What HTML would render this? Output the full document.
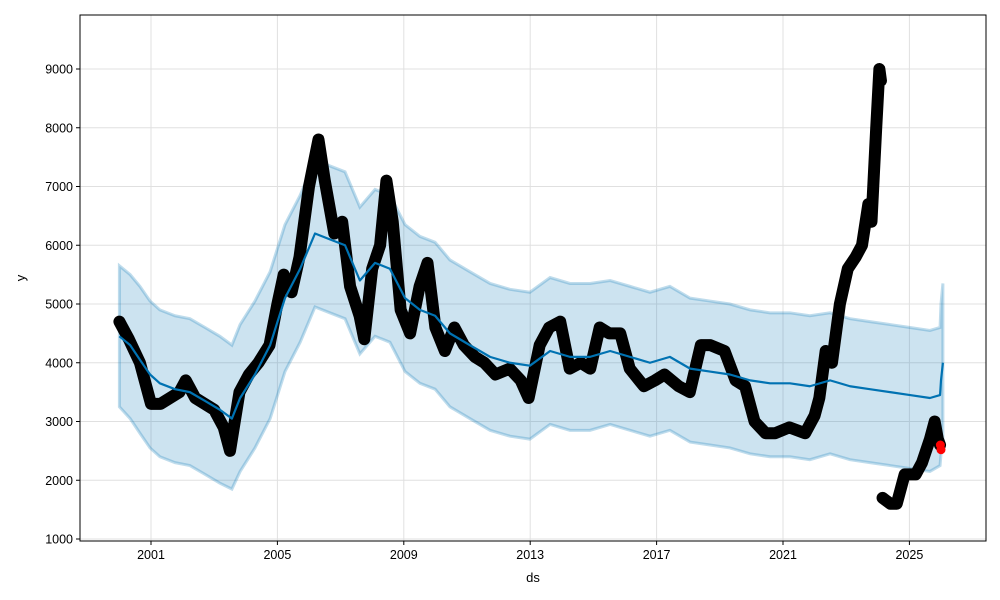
<!DOCTYPE html>
<html><head><meta charset="utf-8"><style>
html,body{margin:0;padding:0;background:#fff}
svg{display:block;font-family:"Liberation Sans","DejaVu Sans",sans-serif}
</style></head><body>
<svg id="chart" width="1000" height="600"></svg>
<script>
const trendYears=[2000.0,2000.34,2000.65,2000.97,2001.28,2001.76,2002.23,2002.71,2003.18,2003.56,2003.82,2004.29,2004.77,2005.24,2005.72,2006.19,2006.66,2007.14,2007.61,2008.09,2008.56,2009.04,2009.51,2009.99,2010.46,2011.09,2011.73,2012.36,2012.99,2013.63,2014.26,2014.89,2015.53,2016.16,2016.79,2017.42,2018.06,2018.69,2019.32,2019.96,2020.59,2021.22,2021.85,2022.49,2023.12,2023.75,2024.39,2025.02,2025.65,2025.97,2026.0,2026.06];
const trendValues=[4450,4300,4050,3800,3650,3550,3500,3350,3200,3050,3400,3800,4300,5100,5600,6200,6100,6000,5400,5700,5600,5100,4900,4800,4500,4300,4100,4000,3950,4200,4100,4100,4200,4100,4000,4100,3900,3850,3800,3700,3650,3650,3600,3700,3600,3550,3500,3450,3400,3450,3700,4000];
const upperValues=[5650,5500,5300,5050,4900,4800,4750,4600,4450,4300,4650,5050,5550,6350,6850,7450,7350,7250,6650,6950,6850,6350,6150,6050,5750,5550,5350,5250,5200,5450,5350,5350,5400,5300,5200,5300,5100,5050,5000,4900,4850,4850,4800,4850,4750,4700,4650,4600,4550,4600,5000,5350];
const lowerValues=[3250,3050,2800,2550,2400,2300,2250,2100,1950,1850,2150,2550,3050,3850,4350,4950,4850,4750,4150,4450,4350,3850,3650,3550,3250,3050,2850,2750,2700,2950,2850,2850,2950,2850,2750,2850,2650,2600,2550,2450,2400,2400,2350,2450,2350,2300,2250,2200,2150,2250,2450,2500];
const obsYears=[2000.0,2000.3,2000.65,2001.0,2001.3,2001.6,2001.9,2002.1,2002.4,2002.7,2003.0,2003.3,2003.5,2003.8,2004.1,2004.4,2004.75,2005.0,2005.2,2005.45,2005.7,2006.0,2006.3,2006.5,2006.8,2007.05,2007.3,2007.6,2007.75,2008.0,2008.25,2008.45,2008.65,2008.9,2009.2,2009.5,2009.75,2010.0,2010.3,2010.6,2010.9,2011.25,2011.55,2011.9,2012.35,2012.7,2012.95,2013.3,2013.6,2013.95,2014.25,2014.6,2014.9,2015.2,2015.5,2015.85,2016.15,2016.6,2016.95,2017.25,2017.7,2018.05,2018.4,2018.7,2019.15,2019.5,2019.8,2020.1,2020.45,2020.75,2021.2,2021.7,2022.0,2022.15,2022.35,2022.55,2022.8,2023.05,2023.3,2023.5,2023.7,2023.8,2023.95,2024.05,2024.1];
const obsValues=[4700,4400,4000,3300,3300,3400,3500,3700,3400,3300,3200,2900,2500,3500,3800,4000,4300,5000,5500,5200,5800,7000,7800,7100,6200,6400,5300,4800,4400,5600,6000,7100,6400,4900,4500,5300,5700,4600,4200,4600,4300,4100,4000,3800,3900,3700,3400,4300,4600,4700,3900,4000,3900,4600,4500,4500,3900,3600,3700,3800,3600,3500,4300,4300,4200,3700,3600,3000,2800,2800,2900,2800,3100,3400,4200,4000,5000,5600,5800,6000,6700,6400,8000,9000,8800];
const obs2Years=[2024.15,2024.4,2024.6,2024.85,2025.2,2025.4,2025.65,2025.8,2025.9,2025.97];
const obs2Values=[1700,1600,1600,2100,2100,2300,2700,3000,2700,2600];
const predYears=[2025.98,2026.0];
const predValues=[2600,2520];
const xTicks=[2001,2005,2009,2013,2017,2021,2025];
const yTicks=[1000,2000,3000,4000,5000,6000,7000,8000,9000];

const L=80,R=986,T=15,B=541;
const sx=y=>151+(y-2001)*31.6;
const sy=v=>539-(v-1000)*0.05875;
const svg=document.getElementById('chart');
const NS='http://www.w3.org/2000/svg';
function mk(tag,attrs){const e=document.createElementNS(NS,tag);for(const k in attrs)e.setAttribute(k,attrs[k]);svg.appendChild(e);return e;}
xTicks.forEach(t=>{const g=mk('line',{x1:sx(t),x2:sx(t),y1:T,y2:B,stroke:'#e0e0e0','stroke-width':1});

});
yTicks.forEach(t=>{const g=mk('line',{x1:L,x2:R,y1:sy(t),y2:sy(t),stroke:'#e0e0e0','stroke-width':1});

});
let d='M'+trendYears.map((y,i)=>sx(y)+','+sy(upperValues[i])).join('L');
for(let i=trendYears.length-1;i>=0;i--)d+='L'+sx(trendYears[i])+','+sy(lowerValues[i]);
const band=mk('path',{d:d+'Z',fill:'#0072B2','fill-opacity':0.2,stroke:'#0072B2','stroke-opacity':0.25,'stroke-width':3});


function poly(xs,vs,attrs,name){const p=mk('polyline',Object.assign({points:xs.map((y,i)=>sx(y)+','+sy(vs[i])).join(' '),fill:'none'},attrs));

}
poly(obsYears,obsValues,{stroke:'#000','stroke-width':12,'stroke-linejoin':'round','stroke-linecap':'round'},'observed-points');
poly(obs2Years,obs2Values,{stroke:'#000','stroke-width':12,'stroke-linejoin':'round','stroke-linecap':'round'},'observed-points-recent');
poly(trendYears,trendValues,{stroke:'#0072B2','stroke-width':2.2,'stroke-linejoin':'round'},'forecast-line');
predYears.forEach((y,i)=>{const c=mk('circle',{cx:sx(y),cy:sy(predValues[i]),r:4.5,fill:'#ff0000'});

});
const fr=mk('rect',{x:L,y:T,width:R-L,height:B-T,fill:'none',stroke:'#000','stroke-width':1});


xTicks.forEach(t=>{mk('line',{x1:sx(t),x2:sx(t),y1:B,y2:B+4,stroke:'#000'});
const tx=mk('text',{x:sx(t),y:B+18,'text-anchor':'middle','font-size':12.5,fill:'#000'});tx.textContent=t;

});
yTicks.forEach(t=>{mk('line',{x1:L-4,x2:L,y1:sy(t),y2:sy(t),stroke:'#000'});
const tx=mk('text',{x:L-7,y:sy(t)+4.5,'text-anchor':'end','font-size':12.5,fill:'#000'});tx.textContent=t;

});
const xl=mk('text',{x:533,y:582,'text-anchor':'middle','font-size':13});xl.textContent='ds';


const yl=mk('text',{x:25,y:278,'text-anchor':'middle','font-size':13,transform:'rotate(-90 25 278)'});yl.textContent='y';


</script>
</body></html>
